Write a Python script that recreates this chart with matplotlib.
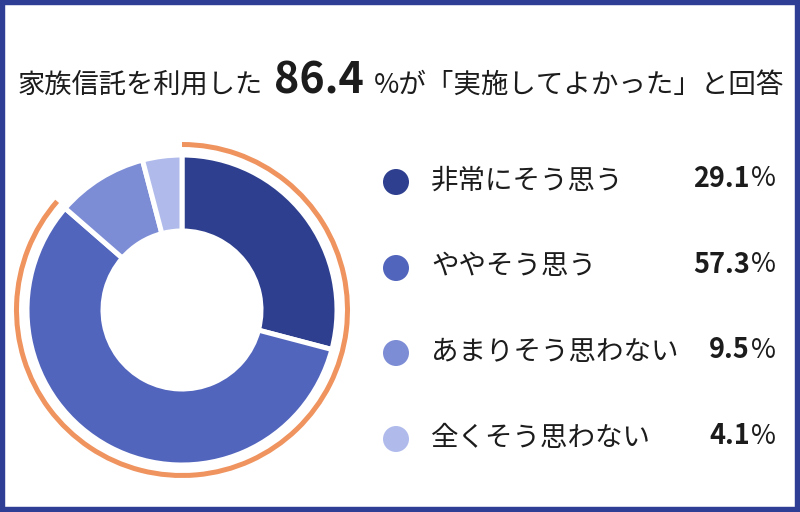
import matplotlib.pyplot as plt
from matplotlib.patches import Wedge, Rectangle, Circle

# data
labels = ["非常にそう思う", "ややそう思う", "あまりそう思わない", "全くそう思わない"]
values = [29.1, 57.3, 9.5, 4.1]
colors = ["#2e3f8f", "#5265bd", "#7d8dd5", "#b0bbec"]
positive_total = values[0] + values[1]

plt.rcParams["font.family"] = ["Noto Sans CJK JP", "DejaVu Sans"]

W, H = 800, 512
fig = plt.figure(figsize=(8, 5.12), dpi=100)
ax = fig.add_axes([0, 0, 1, 1])


def Y(y):
    # flip from top-based pixel rows
    return H - y


# --------------------------------------------------
# Donut
# --------------------------------------------------
cx, cy = 182, Y(310)
ax.pie(
    values,
    colors=colors,
    startangle=90,
    counterclock=False,
    center=(cx, cy),
    radius=155,
    frame=True,
    wedgeprops=dict(width=76, edgecolor="white", linewidth=3.6),
)

# orange ring over the "positive" answers
ring = Wedge(
    (cx, cy), 168,
    90 - 360 * positive_total / 100, 90,
    width=5, facecolor="#ef935f", edgecolor="none",
)
ax.add_patch(ring)

# --------------------------------------------------
# Title
# --------------------------------------------------
txt = "#1c1c1c"
base = Y(93)
ax.text(18, base, "家族信託を利用した", fontsize=19.6, color=txt,
        ha="left", va="baseline")
ax.text(274, base, f"{positive_total:.1f}", fontsize=31, fontweight="bold",
        color=txt, ha="left", va="baseline")
ax.text(374, base, "%が「実施してよかった」と回答", fontsize=19.8, color=txt,
        ha="left", va="baseline")

# --------------------------------------------------
# Legend
# --------------------------------------------------
rows_y = [182, 268, 353, 439]
for lab, val, col, ry in zip(labels, values, colors, rows_y):
    ax.add_patch(Circle((396, Y(ry)), 13, facecolor=col, edgecolor="none"))
    ax.text(431, Y(ry - 1), lab, fontsize=19.8, color=txt,
            ha="left", va="center")
    ax.text(750, Y(ry - 3), f"{val:.1f}", fontsize=19.5, fontweight="bold",
            color=txt, ha="right", va="center")
    ax.text(751, Y(ry - 3), "%", fontsize=19.5, color=txt,
            ha="left", va="center")

# frame border
ax.add_patch(Rectangle((0, 0), W, H, fill=False, edgecolor="#2d3e94",
                       linewidth=7.5, clip_on=False))

ax.set_xlim(0, W)
ax.set_ylim(0, H)
ax.set_aspect("equal")
ax.axis("off")

fig.savefig("out.png", dpi=100, facecolor="white")
